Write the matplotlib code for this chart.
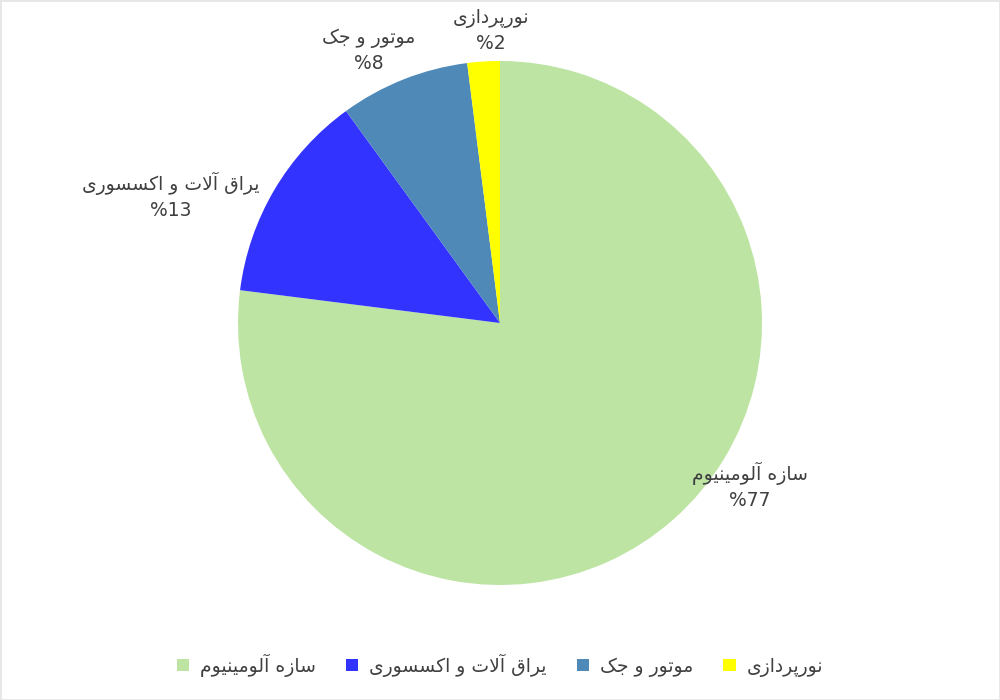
import matplotlib
matplotlib.use("Agg")
import matplotlib.pyplot as plt
from matplotlib.patches import Rectangle

# data
categories = ["سازه آلومینیوم", "یراق آلات و اکسسوری", "موتور و جک", "نورپردازی"]
values = [77, 13, 8, 2]
colors = ["#BDE4A3", "#3333FF", "#4F89B8", "#FFFF00"]

# label block centres in pixels (x, y from top)
label_px = [(750, 486), (171, 196), (369, 51), (491, 31)]

TEXT = "#404040"

# contextual forms: (isolated, final[, initial, medial])
FORMS = {
    "\u0627": ("\uFE8D", "\uFE8E"),
    "\u0622": ("\uFE81", "\uFE82"),
    "\u062F": ("\uFEA9", "\uFEAA"),
    "\u0631": ("\uFEAD", "\uFEAE"),
    "\u0632": ("\uFEAF", "\uFEB0"),
    "\u0648": ("\uFEED", "\uFEEE"),
    "\u062A": ("\uFE95", "\uFE96", "\uFE97", "\uFE98"),
    "\u062C": ("\uFE9D", "\uFE9E", "\uFE9F", "\uFEA0"),
    "\u0633": ("\uFEB1", "\uFEB2", "\uFEB3", "\uFEB4"),
    "\u0642": ("\uFED5", "\uFED6", "\uFED7", "\uFED8"),
    "\u0644": ("\uFEDD", "\uFEDE", "\uFEDF", "\uFEE0"),
    "\u0645": ("\uFEE1", "\uFEE2", "\uFEE3", "\uFEE4"),
    "\u0646": ("\uFEE5", "\uFEE6", "\uFEE7", "\uFEE8"),
    "\u0647": ("\uFEE9", "\uFEEA", "\uFEEB", "\uFEEC"),
    "\u067E": ("\uFB56", "\uFB57", "\uFB58", "\uFB59"),
    "\u06A9": ("\uFB8E", "\uFB8F", "\uFB90", "\uFB91"),
    "\u06CC": ("\uFBFC", "\uFBFD", "\uFBFE", "\uFBFF"),
    "LA": ("\uFEFB", "\uFEFC"),
    "LAA": ("\uFEF5", "\uFEF6"),
}


def shape_fa(text):
    """ Very small Persian shaper: joining forms + visual (reversed) order. """
    tokens = []
    i = 0
    while i < len(text):
        ch = text[i]
        if ch == "\u0644" and i + 1 < len(text) and text[i + 1] in ("\u0627", "\u0622"):
            tokens.append("LA" if text[i + 1] == "\u0627" else "LAA")
            i += 2
            continue
        tokens.append(ch)
        i += 1

    def dual(t):
        return t in FORMS and len(FORMS[t]) == 4

    out = []
    for k, t in enumerate(tokens):
        if t not in FORMS:
            out.append(t)
            continue
        jp = k > 0 and dual(tokens[k - 1])
        jn = dual(t) and k + 1 < len(tokens) and tokens[k + 1] in FORMS
        f = FORMS[t]
        if jp and jn:
            out.append(f[3])
        elif jp:
            out.append(f[1])
        elif jn:
            out.append(f[2])
        else:
            out.append(f[0])
    return "".join(out[::-1])


plt.rcParams["font.family"] = ["DejaVu Sans"]

fig = plt.figure(figsize=(10, 7), dpi=100)
ax = fig.add_axes([0, 0, 1, 1])

W, H = 1000, 700
wedges, _ = ax.pie(values, colors=colors, startangle=90, counterclock=False,
                   center=(500, H - 323), radius=262,
                   wedgeprops=dict(linewidth=0))
ax.set_xlim(0, W)
ax.set_ylim(0, H)
ax.set_aspect("equal")
ax.axis("off")

for name, v, (px, py) in zip(categories, values, label_px):
    ax.text(px, H - py, shape_fa(name) + "\n%" + str(v), ha="center", va="center",
            multialignment="center", fontsize=13.5, color=TEXT, linespacing=1.4)

leg = fig.legend(wedges, [shape_fa(c) for c in categories], loc="center",
                 bbox_to_anchor=(0.5, 1 - 665 / H), ncol=4, frameon=False,
                 fontsize=13.5, handlelength=0.65, handleheight=0.65,
                 handletextpad=0.6, columnspacing=1.6)
for t in leg.get_texts():
    t.set_color(TEXT)

fig.patches.append(Rectangle((0, 0), 1, 1, transform=fig.transFigure, fill=False,
                             edgecolor="#e6e6e6", linewidth=2))

fig.savefig("out.png", dpi=100)
